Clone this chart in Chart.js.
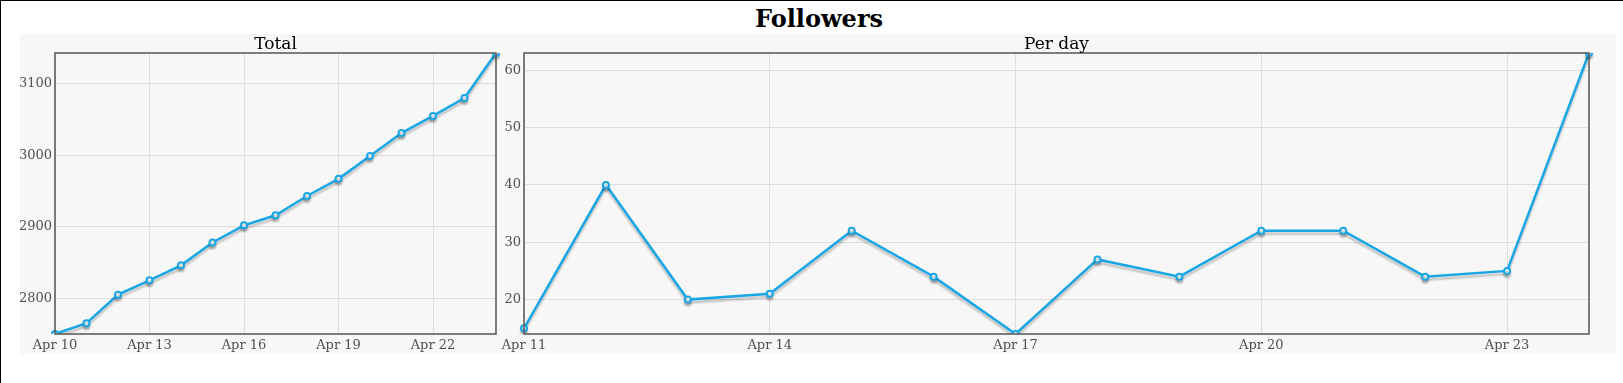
<!DOCTYPE html>
<html>
<head>
<meta charset="utf-8">
<script src="https://cdn.jsdelivr.net/npm/chart.js@4/dist/chart.umd.min.js"></script>
<style>
  html, body { margin: 0; padding: 0; background: #fff; overflow: hidden; }
  #frame { position: absolute; left: 0; top: 0; width: 1660px; height: 420px; border: 1px solid #000; box-sizing: border-box; }
  #title { position: absolute; left: 20px; width: 1598px; top: 4px; text-align: center;
           font: bold 24px "DejaVu Serif", serif; color: #000; }
  #panel { position: absolute; left: 20px; top: 34px; width: 1596px; height: 320px; background: #f7f7f7; }
  canvas { position: absolute; top: 34px; }
  #totalChart { left: 20px; }
  #dayChart { left: 499px; }
</style>
</head>
<body>
<div id="frame"></div>
<div id="title">Followers</div>
<div id="panel"></div>
<canvas id="totalChart" width="482" height="320"></canvas>
<canvas id="dayChart" width="1116" height="320"></canvas>
<script>
const totalDates = ['Apr 10', 'Apr 11', 'Apr 12', 'Apr 13', 'Apr 14', 'Apr 15', 'Apr 16', 'Apr 17',
                    'Apr 18', 'Apr 19', 'Apr 20', 'Apr 21', 'Apr 22', 'Apr 23', 'Apr 24'];
const totalValues = [2750, 2765, 2805, 2825, 2846, 2878, 2902, 2916, 2943, 2967, 2999, 3031, 3055, 3080, 3143];
const totalXTicks = ['Apr 10', 'Apr 13', 'Apr 16', 'Apr 19', 'Apr 22'];
const totalYTicks = [2800, 2900, 3000, 3100];

const dayDates = ['Apr 11', 'Apr 12', 'Apr 13', 'Apr 14', 'Apr 15', 'Apr 16', 'Apr 17',
                  'Apr 18', 'Apr 19', 'Apr 20', 'Apr 21', 'Apr 22', 'Apr 23', 'Apr 24'];
const dayValues = [15, 40, 20, 21, 32, 24, 14, 27, 24, 32, 32, 24, 25, 63];
const dayXTicks = ['Apr 11', 'Apr 14', 'Apr 17', 'Apr 20', 'Apr 23'];
const dayYTicks = [20, 30, 40, 50, 60];

const lineColor = '#19a6e4';
const gridColor = '#dddddd';
const tickColor = '#505050';
const tickFont = { family: '"DejaVu Serif", serif', size: 13 };

// frame around the plot, caption above it, soft shadow under the line
const panelPlugin = {
    id: 'panel',
    beforeDatasetsDraw(chart) {
        const ctx = chart.ctx;
        ctx.save();
        ctx.shadowColor = 'rgba(0,0,0,0.22)';
        ctx.shadowOffsetY = 3;
        ctx.shadowBlur = 2;
    },
    afterDatasetsDraw(chart) {
        chart.ctx.restore();
    },
    afterDraw(chart, args, opts) {
        const ctx = chart.ctx;
        const a = chart.chartArea;
        ctx.save();
        ctx.strokeStyle = '#555';
        ctx.lineWidth = 1.5;
        ctx.strokeRect(a.left, a.top, a.right - a.left, a.bottom - a.top);
        ctx.fillStyle = '#000';
        ctx.font = '17px "DejaVu Serif", serif';
        ctx.textAlign = 'center';
        ctx.textBaseline = 'alphabetic';
        ctx.fillText(opts.caption, (a.left + a.right) / 2, a.top - 4);
        ctx.restore();
    }
};

function makeChart(id, labels, values, xTicks, yTicks, axisWidth, padRight, caption) {
    return new Chart(document.getElementById(id), {
        type: 'line',
        data: {
            labels: labels,
            datasets: [{
                data: values,
                borderColor: lineColor,
                borderWidth: 2.5,
                tension: 0,
                pointRadius: 3,
                pointBorderWidth: 2,
                pointBackgroundColor: '#fff',
                pointBorderColor: lineColor
            }]
        },
        options: {
            responsive: false,
            animation: false,
            layout: { padding: { top: 19, right: padRight, left: 0, bottom: 0 } },
            plugins: {
                legend: { display: false },
                tooltip: { enabled: false },
                panel: { caption: caption }
            },
            scales: {
                x: {
                    type: 'category',
                    offset: false,
                    border: { display: false },
                    grid: { color: gridColor, drawTicks: false },
                    ticks: { color: tickColor, font: tickFont, padding: 4, maxRotation: 0, autoSkip: false },
                    afterBuildTicks(scale) {
                        scale.ticks = scale.ticks.filter(t => xTicks.includes(labels[t.value]));
                    },
                    afterFit(scale) {
                        scale.height = 20;
                        scale.paddingLeft = 0;
                        scale.paddingRight = 0;
                    }
                },
                y: {
                    min: Math.min(...values),
                    max: Math.max(...values),
                    border: { display: false },
                    grid: { color: gridColor, drawTicks: false },
                    ticks: { color: tickColor, font: tickFont, padding: 3, callback: v => String(v) },
                    afterBuildTicks(scale) {
                        scale.ticks = yTicks.map(v => ({ value: v }));
                    },
                    afterFit(scale) {
                        scale.width = axisWidth;
                        scale.paddingTop = 0;
                        scale.paddingBottom = 0;
                    }
                }
            }
        },
        plugins: [panelPlugin]
    });
}

makeChart('totalChart', totalDates, totalValues, totalXTicks, totalYTicks, 35, 5, 'Total');
makeChart('dayChart', dayDates, dayValues, dayXTicks, dayYTicks, 25, 26, 'Per day');
</script>
</body>
</html>
